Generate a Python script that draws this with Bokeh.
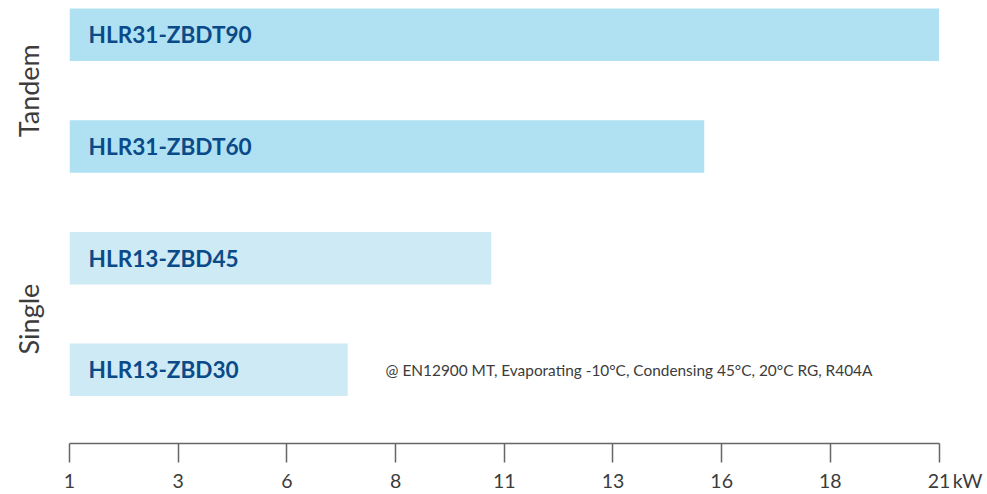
from bokeh.plotting import figure
from bokeh.models import ColumnDataSource, FixedTicker, Label, Range1d, LinearAxis
from bokeh.core.properties import value
from bokeh.embed import file_html
from bokeh.resources import INLINE

# ---- data ----
models = ["HLR13-ZBD30", "HLR13-ZBD45", "HLR31-ZBDT60", "HLR31-ZBDT90"]
groups = ["Single", "Single", "Tandem", "Tandem"]
capacity_kw = [7.4, 10.7, 15.6, 21.0]
tick_values = [1.0, 3.5, 6.0, 8.5, 11.0, 13.5, 16.0, 18.5, 21.0]
tick_labels = ["1", "3", "6", "8", "11", "13", "16", "18", "21"]
group_names = ["Single", "Tandem"]
unit = "kW"
note = "@ EN12900 MT, Evaporating -10°C, Condensing 45°C, 20°C RG, R404A"
x_start = 1.0

# ---- styling / layout ----
group_colors = {"Single": "#cdeaf5", "Tandem": "#afe1f2"}
FONT = "Lato"
GRAY = "#3c3c3c"
AXIS_GRAY = "#666666"
unit_pos = 21.66      # where the unit label sits on the x scale
note_x = 8.27
group_label_nudge = {"Single": -0.045, "Tandem": 0.0}

pos = list(range(len(models)))
src = ColumnDataSource(dict(
    y=pos, model=models, cap=capacity_kw,
    color=[group_colors[g] for g in groups],
))

p = figure(width=987, height=494, output_backend="svg", toolbar_location=None,
           x_range=Range1d(x_start, 22.0),
           y_range=Range1d(-0.6597, 3.3076),
           min_border_left=69, min_border_right=5,
           min_border_top=0, min_border_bottom=49)
p.outline_line_color = None
p.grid.visible = False

p.hbar(y="y", left=x_start, right="cap", height=0.47, fill_color="color",
       line_color=None, source=src)
p.text(x=x_start, y="y", text="model", source=src, x_offset=19,
       text_font=value(FONT), text_font_style="bold", text_font_size="22.6px",
       text_color="#0b4a89", text_baseline="middle", text_align="left")

# x axis: line + tick marks (labels not drawn)
xa = p.xaxis[0]
xa.ticker = FixedTicker(ticks=tick_values)
xa.bounds = (tick_values[0], tick_values[-1])
xa.axis_line_color = AXIS_GRAY
xa.axis_line_width = 1.5
xa.major_tick_line_color = AXIS_GRAY
xa.major_tick_line_width = 1.5
xa.major_tick_out = 19
xa.major_tick_in = 0
xa.minor_tick_line_color = None
xa.major_label_standoff = 0
xa.major_label_text_font_size = "0px"
xa.major_label_text_color = None

# second x axis: tick labels + unit
xb = LinearAxis(ticker=FixedTicker(ticks=tick_values + [unit_pos]))
overrides = {v: l for v, l in zip(tick_values, tick_labels)}
overrides[unit_pos] = unit
xb.major_label_overrides = overrides
xb.axis_line_color = None
xb.major_tick_line_color = None
xb.major_tick_out = 0
xb.major_tick_in = 0
xb.minor_tick_line_color = None
xb.major_label_standoff = 6
xb.major_label_text_font = FONT
xb.major_label_text_font_size = "19.5px"
xb.major_label_text_color = GRAY
p.add_layout(xb, "below")

# y axis with group labels
group_ticks = []
for g in group_names:
    idx = [i for i, gg in enumerate(groups) if gg == g]
    group_ticks.append(sum(idx) / len(idx) + group_label_nudge[g])
ya = p.yaxis[0]
ya.ticker = FixedTicker(ticks=group_ticks)
ya.major_label_overrides = {c: g for c, g in zip(group_ticks, group_names)}
ya.major_label_orientation = "vertical"
ya.axis_line_color = None
ya.major_tick_line_color = None
ya.minor_tick_line_color = None
ya.major_label_standoff = 18
ya.major_label_text_font = FONT
ya.major_label_text_font_size = "27px"
ya.major_label_text_color = GRAY

# note
p.add_layout(Label(x=note_x, y=0, text=note, text_font=FONT,
                   text_font_size="15.4px", text_color=GRAY,
                   text_baseline="middle", text_align="left"))

open("out.html", "w").write(file_html(p, INLINE))
